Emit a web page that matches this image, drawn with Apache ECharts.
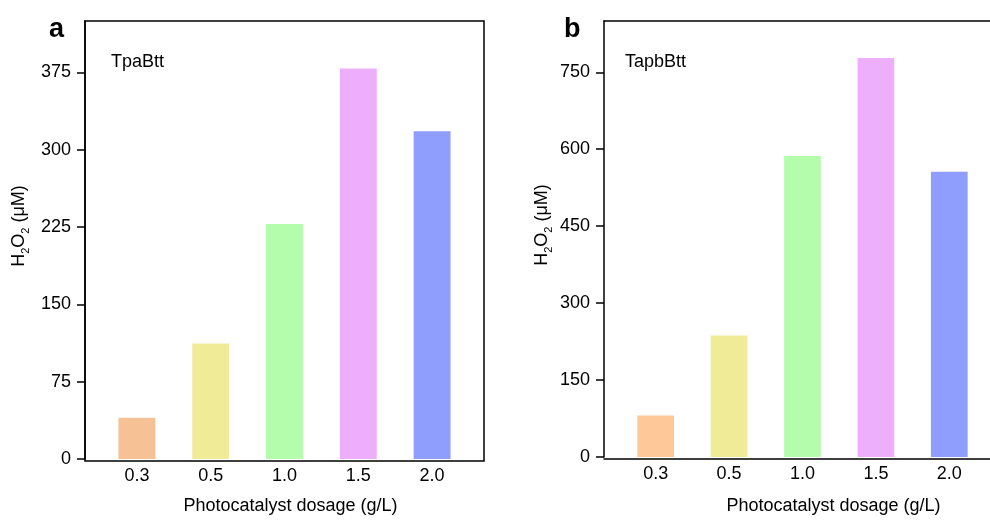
<!DOCTYPE html>
<html>
<head>
<meta charset="utf-8">
<style>
  html, body { margin: 0; padding: 0; background: #fff; }
  #chart { width: 990px; height: 520px; }
</style>
<script src="https://cdn.jsdelivr.net/npm/echarts@6/dist/echarts.min.js"></script>
</head>
<body>
<div id="chart"></div>
<script>
// Photocatalyst dosage (g/L)
const dosages = ['0.3', '0.5', '1.0', '1.5', '2.0'];

// H2O2 production (μM)
const tpaBttValues = [40, 112, 228, 379, 318];
const tapbBttValues = [81, 237, 587, 778, 556];

// y-axis ticks
const ticksA = [0, 75, 150, 225, 300, 375];
const ticksB = [0, 150, 300, 450, 600, 750];
const maxA = 425;
const maxB = 850;

// bar fills, one per dosage
const coloursA = ['#F7C196', '#F0EB97', '#B3FDAD', '#EDAEFB', '#8F9DFD'];
const coloursB = ['#FFC898', '#F0EB97', '#B3FDAD', '#EDAEFB', '#8F9DFD'];

const FONT = '"Liberation Sans", Arial, Helvetica, sans-serif';
const LINE = { color: '#000', width: 1.5 };

const chart = echarts.init(document.getElementById('chart'), null, { renderer: 'canvas' });

function yAxisFor(gridIndex, max, ticks, gap) {
  return {
    gridIndex: gridIndex,
    type: 'value',
    min: 0,
    max: max,
    offset: 15,
    name: 'H{sub|2}O{sub|2} (μM)',
    nameLocation: 'middle',
    nameGap: gap,
    nameRotate: 90,
    nameTextStyle: {
      color: '#000',
      fontFamily: FONT,
      fontSize: 18,
      lineHeight: 24,
      padding: [0, 0, 0, 28],
      rich: {
        sub: { fontSize: 11, lineHeight: 11, verticalAlign: 'bottom', fontFamily: FONT, color: '#000' }
      }
    },
    axisLine: { show: true, lineStyle: LINE },
    axisTick: { show: true, inside: false, length: 8, customValues: ticks, lineStyle: LINE },
    axisLabel: { show: true, customValues: ticks, margin: 14, color: '#000', fontSize: 18, fontFamily: FONT },
    splitLine: { show: false }
  };
}

function xAxisFor(gridIndex, gap, shift) {
  return {
    gridIndex: gridIndex,
    type: 'category',
    data: dosages,
    name: 'Photocatalyst dosage (g/L)',
    nameLocation: 'middle',
    nameGap: gap,
    nameTextStyle: { color: '#000', fontFamily: FONT, fontSize: 18, padding: [0, 0, 0, shift] },
    axisLine: { show: false },
    axisTick: { show: false },
    axisLabel: { color: '#000', fontSize: 18, fontFamily: FONT, margin: 8 },
    splitLine: { show: false }
  };
}

// bare frame edge: axis line only
function edgeAxis(gridIndex, position) {
  return {
    gridIndex: gridIndex,
    type: 'value',
    position: position,
    min: 0,
    max: 1,
    axisLine: { show: true, onZero: false, lineStyle: LINE },
    axisTick: { show: false },
    axisLabel: { show: false },
    splitLine: { show: false }
  };
}

function barsFor(axisIdx, values, colours) {
  return {
    type: 'bar',
    xAxisIndex: axisIdx,
    yAxisIndex: axisIdx,
    barWidth: '50%',
    data: values.map((v, i) => ({ value: v, itemStyle: { color: colours[i] } })),
    silent: true
  };
}

const hiddenAxis = (gridIndex) => ({ gridIndex: gridIndex, type: 'value', show: false });

chart.setOption({
  animation: false,
  backgroundColor: '#fff',
  title: [
    { text: 'a', left: 44, top: 11, textStyle: { fontFamily: FONT, fontSize: 27, fontWeight: 'bold', color: '#000' } },
    { text: 'b', left: 559, top: 11, textStyle: { fontFamily: FONT, fontSize: 27, fontWeight: 'bold', color: '#000' } },
    { text: 'TpaBtt', left: 106, top: 48, textStyle: { fontFamily: FONT, fontSize: 18, fontWeight: 'normal', color: '#000' } },
    { text: 'TapbBtt', left: 620, top: 48, textStyle: { fontFamily: FONT, fontSize: 18, fontWeight: 'normal', color: '#000' } }
  ],
  grid: [
    // closed frame of panel a
    { left: 85, top: 21, width: 399, height: 440, show: true, borderColor: '#000', borderWidth: 1.5, backgroundColor: 'transparent' },
    // panel b runs past the right edge: top and bottom edges only
    { left: 604, top: 21, right: 0, height: 438 },
    // plotting areas inset from the frames
    { left: 100, top: 21, width: 369, height: 440 },
    { left: 619, top: 21, width: 367, height: 438 }
  ],
  xAxis: [
    hiddenAxis(0),
    edgeAxis(1, 'bottom'),
    xAxisFor(2, 38, 12),
    xAxisFor(3, 40, 62),
    edgeAxis(1, 'top')
  ],
  yAxis: [
    hiddenAxis(0),
    hiddenAxis(1),
    yAxisFor(2, maxA, ticksA, 54),
    yAxisFor(3, maxB, ticksB, 50)
  ],
  series: [
    barsFor(2, tpaBttValues, coloursA),
    barsFor(3, tapbBttValues, coloursB)
  ]
});
</script>
</body>
</html>
